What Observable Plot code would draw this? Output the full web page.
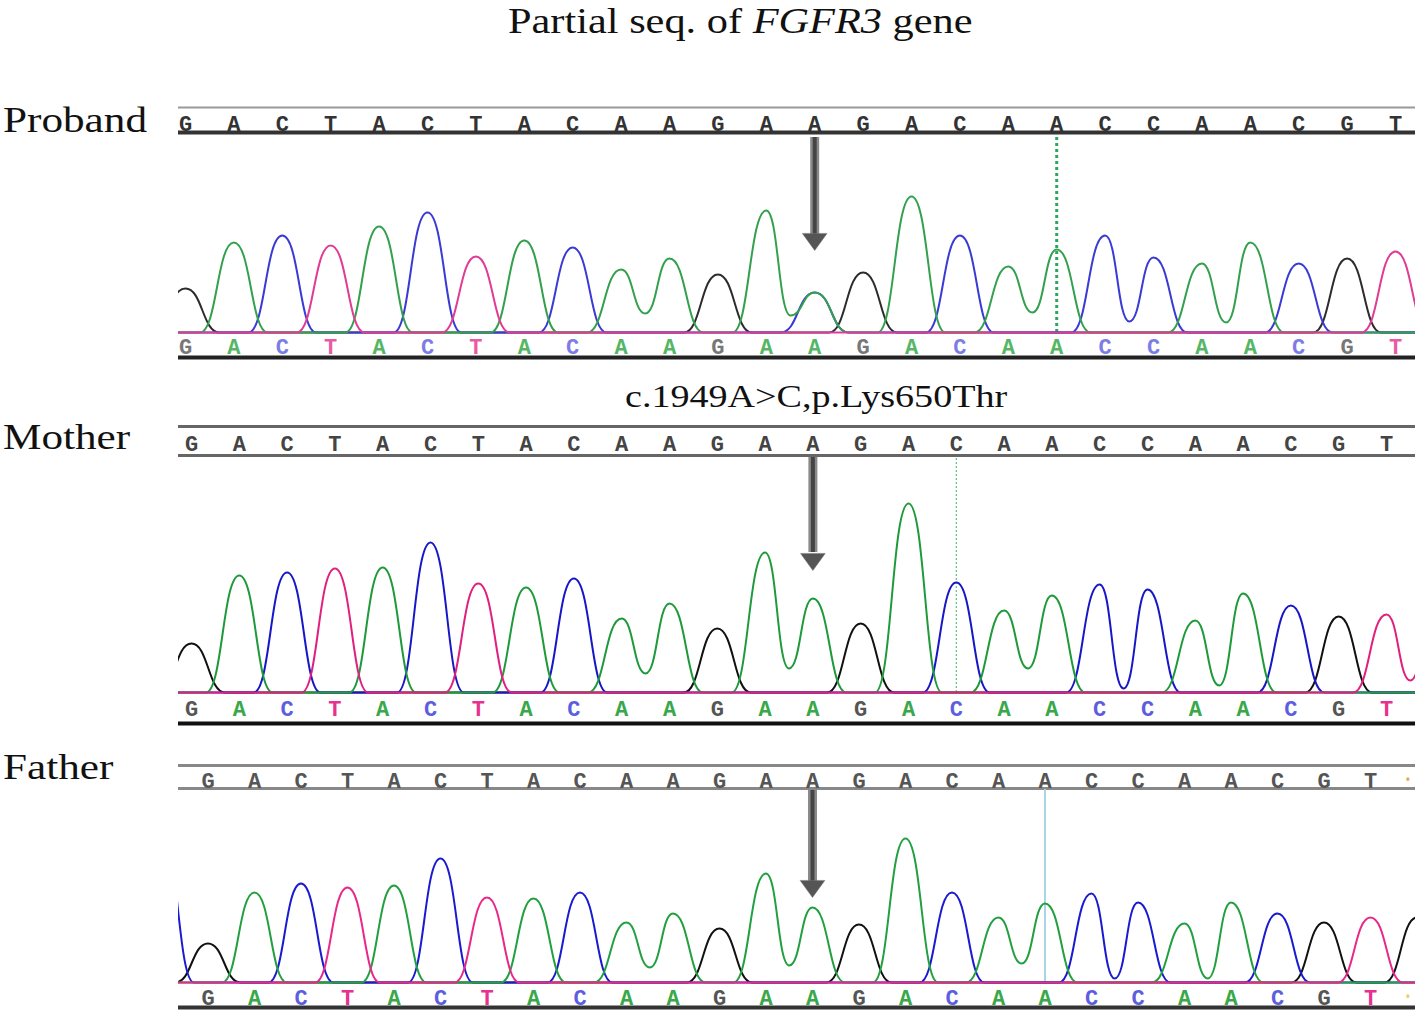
<!DOCTYPE html>
<html><head><meta charset="utf-8">
<script src="https://cdn.jsdelivr.net/npm/d3@7"></script>
<script src="https://cdn.jsdelivr.net/npm/@observablehq/plot@0.6"></script>
<style>
body{margin:0;background:#fff;}
#wrap{position:relative;width:1418px;height:1012px;overflow:hidden;background:#fff;}
.lbl{position:absolute;font-family:"Liberation Serif","Times New Roman",serif;color:#111;line-height:1;white-space:nowrap;transform-origin:0 0;}
.panel{position:absolute;left:0;}
</style></head><body><div id="wrap"></div>
<script>
// ---------------- data ----------------
const baseCalls = ["G","A","C","T","A","C","T","A","C","A","A","G","A","A","G","A","C","A","A","C","C","A","A","C","G","T"];
const fatherCalls = ["G","A","C","T","A","C","T","A","C","A","A","G","A","A","G","A","C","A","A","C","C","A","A","C","G","T","•"];

// primary peak heights (signal units) at each called base
const probandPeaks = [44, 90, 97, 87, 106, 120, 76, 92, 85, 63, 74, 58, 122, 40, 60, 136, 97, 66, 83, 97, 75, 69, 90, 69, 74, 81];
const motherPeaks  = [49, 117, 120, 124, 125, 150, 109, 105, 114, 74, 89, 64, 140, 94, 69, 189, 110, 82, 97, 108, 103, 72, 99, 87, 76, 78];
const fatherPeaks  = [39, 90, 99, 95, 97, 124, 85, 84, 90, 60, 69, 54, 109, 75, 58, 144, 90, 65, 79, 89, 80, 59, 80, 69, 60, 65];

// valleys between two consecutive peaks of the same base (after = index of left peak)
const probandValleys = [{after: 9, h: 19}, {after: 12, h: 17}, {after: 17, h: 20}, {after: 19, h: 11}, {after: 21, h: 10}];
const motherValleys  = [{after: 9, h: 19}, {after: 12, h: 24}, {after: 17, h: 24}, {after: 19, h: 4}, {after: 21, h: 7}, {after: 25, h: 12}];
const fatherValleys  = [{after: 9, h: 15}, {after: 12, h: 17}, {after: 17, h: 19}, {after: 19, h: 4}, {after: 21, h: 4}];

// secondary / edge peaks
const probandExtra = [{i: 13, base: "C", h: 40}];
const motherExtra  = [{i: 26, base: "T", h: 85}];
const fatherExtra  = [{i: -1, base: "C", h: 150}, {i: 26, base: "G", h: 65}];

const mutationIndex = 13;
const probandMarker = 18, motherMarker = 16, fatherMarker = 18;

// ---------------- helpers ----------------
const HW = 0.7;
function buildTraces(peaks, calls, valleys, extras) {
  const all = peaks.map((h, i) => ({i, base: calls[i], h})).concat(extras);
  const vmap = new Map(valleys.map(v => [v.after, v.h]));
  const rows = [];
  for (const base of ["G", "A", "C", "T"]) {
    const ps = all.filter(p => p.base === base).sort((a, b) => a.i - b.i);
    const pts = [{x: -6, y: 0}];
    ps.forEach((p, k) => {
      const prev = ps[k - 1], next = ps[k + 1];
      if (prev && p.i - prev.i === 1 && vmap.has(prev.i)) pts.push({x: prev.i + 0.5, y: vmap.get(prev.i)});
      else pts.push({x: p.i - HW, y: 0});
      pts.push({x: p.i, y: p.h});
      if (!(next && next.i - p.i === 1 && vmap.has(p.i))) pts.push({x: p.i + HW, y: 0});
    });
    pts.push({x: 40, y: 0});
    pts.forEach(pt => rows.push({...pt, base}));
  }
  return rows;
}

const arrowHead = {
  draw(ctx, size) {
    const r = Math.sqrt(size / Math.PI);
    const w = 2.75 * r, h = 1.9 * r;
    ctx.moveTo(-w / 2, -h); ctx.lineTo(w / 2, -h); ctx.lineTo(0, 0); ctx.closePath();
  }
};

function panel(cfg) {
  const rows = buildTraces(cfg.peaks, cfg.calls, cfg.valleys, cfg.extras);
  const letters = cfg.calls.map((b, i) => ({i, b}));
  const bases = letters.filter(d => d.b !== "•");
  const dots = letters.filter(d => d.b === "•");
  const marks = [];
  cfg.bars.forEach(b => marks.push(Plot.ruleY([b.y], {stroke: b.stroke, strokeWidth: b.w})));
  const font = {fontFamily: "Liberation Mono", fontSize: 22, fontWeight: "bold"};
  marks.push(Plot.text(bases, {x: "i", y: cfg.topY, text: "b", fill: cfg.topFill, ...font}));
  marks.push(Plot.text(bases, {x: "i", y: cfg.bottomY, text: "b", fill: d => cfg.letterColors[d.b], ...font}));
  marks.push(Plot.text(dots, {x: "i", y: cfg.topY, text: "b", fill: "#e8a860", dx: -9, fontSize: 14}));
  marks.push(Plot.text(dots, {x: "i", y: cfg.bottomY, text: "b", fill: "#ecd070", dx: -9, fontSize: 14}));
  marks.push(Plot.ruleX([cfg.marker.i], {y1: 0, y2: cfg.marker.top, stroke: cfg.marker.stroke, strokeWidth: cfg.marker.w, strokeDasharray: cfg.marker.dash}));
  for (const base of ["G", "C", "A", "T"]) {
    marks.push(Plot.line(rows.filter(r => r.base === base), {x: "x", y: "y", stroke: cfg.colors[base], strokeWidth: 2, curve: "bump-x", clip: true}));
  }
  const a = cfg.arrow;
  marks.push(Plot.ruleX([mutationIndex], {y1: a.top, y2: a.head - 2, stroke: "#8a8a8a", strokeWidth: 9}));
  marks.push(Plot.ruleX([mutationIndex], {y1: a.top, y2: a.head - 2, stroke: "#454545", strokeWidth: 4}));
  marks.push(Plot.dot([mutationIndex], {x: d => d, y: a.tip, symbol: arrowHead, r: 9, fill: "#555", stroke: "#777", strokeWidth: 0.5}));
  return Plot.plot({
    width: 1418, height: cfg.height,
    marginLeft: 178, marginRight: 3, marginTop: 2, marginBottom: cfg.mb,
    x: {domain: cfg.xDomain, axis: null},
    y: {domain: cfg.yDomain, axis: null},
    color: {type: "identity"},
    style: {background: "transparent", overflow: "visible"},
    marks
  });
}

const letterColorsP = {A: "#55b765", C: "#7c7ce6", G: "#777", T: "#ea5aa4"};
const letterColors  = {A: "#3aa84a", C: "#5d5de0", G: "#555", T: "#e8308e"};

const panels = [
  {top: 100, height: 265, mb: 3, xDomain: [-0.1446, 25.413], yDomain: [-30, 230],
   calls: baseCalls, peaks: probandPeaks, valleys: probandValleys, extras: probandExtra,
   colors: {A: "#33a04e", C: "#3a3ad4", G: "#2c2c2c", T: "#e03c96"}, letterColors: letterColorsP,
   topY: 209, bottomY: -14, topFill: "#333",
   bars: [{y: 225, stroke: "#999", w: 2}, {y: 200, stroke: "#333", w: 4}, {y: -25, stroke: "#222", w: 4}],
   marker: {i: probandMarker, top: 198, stroke: "#2aa860", w: 3, dash: "3,3"},
   arrow: {top: 195, head: 99, tip: 82}},
  {top: 420, height: 310, mb: 2, xDomain: [-0.272, 25.607], yDomain: [-36, 270],
   calls: baseCalls, peaks: motherPeaks, valleys: motherValleys, extras: motherExtra,
   colors: {A: "#1f9a3a", C: "#1717c8", G: "#111", T: "#e0207e"}, letterColors,
   topY: 249, bottomY: -16, topFill: "#444",
   bars: [{y: 266, stroke: "#666", w: 3}, {y: 237, stroke: "#666", w: 3}, {y: -31, stroke: "#111", w: 4}],
   marker: {i: motherMarker, top: 236, stroke: "#5cc08a", w: 1.2, dash: "2,2"},
   arrow: {top: 235, head: 142, tip: 122}},
  {top: 760, height: 252, mb: 2, xDomain: [-0.634, 25.968], yDomain: [-28, 220],
   calls: fatherCalls, peaks: fatherPeaks, valleys: fatherValleys, extras: fatherExtra,
   colors: {A: "#22a040", C: "#1a1ad0", G: "#111", T: "#e8288a"}, letterColors,
   topY: 202, bottomY: -15, topFill: "#555",
   bars: [{y: 217, stroke: "#888", w: 3}, {y: 194, stroke: "#888", w: 3}, {y: -25, stroke: "#333", w: 4}],
   marker: {i: fatherMarker, top: 193, stroke: "#a9d5e5", w: 2, dash: null},
   arrow: {top: 192, head: 100, tip: 85}}
];

const wrap = document.getElementById("wrap");
panels.forEach(cfg => {
  const div = document.createElement("div");
  div.className = "panel";
  div.style.top = cfg.top + "px";
  div.appendChild(panel(cfg));
  wrap.appendChild(div);
});

function label(html, left, top, size, sx) {
  const d = document.createElement("div");
  d.className = "lbl";
  d.innerHTML = html;
  d.style.left = left + "px"; d.style.top = top + "px";
  d.style.fontSize = size + "px";
  d.style.transform = `scaleX(${sx})`;
  wrap.appendChild(d);
}
label('Partial seq. of <i>FGFR3</i> gene', 508, 4, 35, 1.21);
label('c.1949A&gt;C,p.Lys650Thr', 625, 380, 32, 1.19);
label('Proband', 3, 102, 36, 1.2);
label('Mother', 3, 419, 36, 1.2);
label('Father', 3, 749, 36, 1.2);
</script></body></html>
